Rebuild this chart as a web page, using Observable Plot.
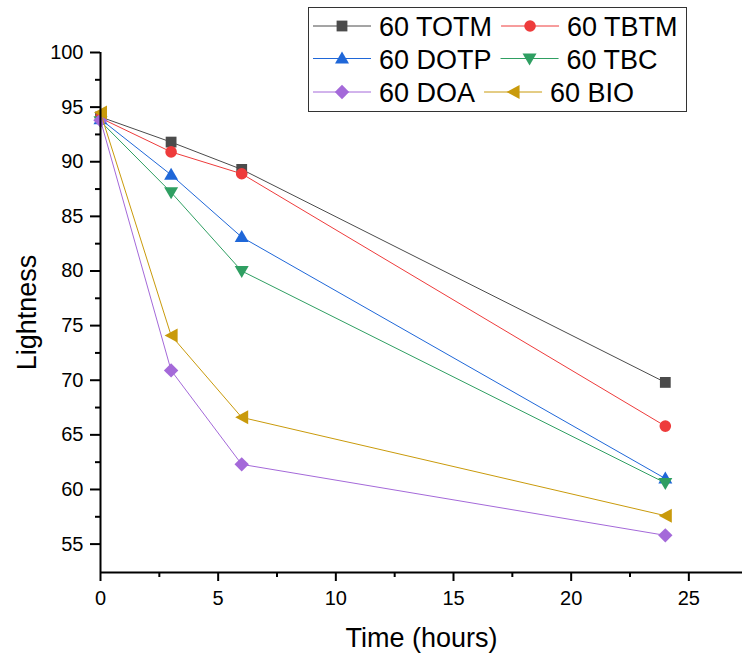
<!DOCTYPE html>
<html><head><meta charset="utf-8">
<script src="https://cdn.jsdelivr.net/npm/d3@7"></script>
<script src="https://cdn.jsdelivr.net/npm/@observablehq/plot@0.6"></script>
<style>body{margin:0;background:#fff;} svg{font-family:"Liberation Sans",Arial,sans-serif;}</style>
</head><body><div id="chart"></div>
<script>
const times = [0, 3, 6, 24];
const seriesNames = ["60 TOTM", "60 TBTM", "60 DOTP", "60 TBC", "60 DOA", "60 BIO"];
const totm = [94.1, 91.8, 89.3, 69.8];
const tbtm = [94.0, 90.9, 88.9, 65.8];
const dotp = [93.9, 88.8, 83.1, 61.0];
const tbc = [93.7, 87.2, 80.0, 60.6];
const doa = [93.8, 70.9, 62.3, 55.8];
const bio = [94.5, 74.1, 66.6, 57.6];
const seriesValues = [totm, tbtm, dotp, tbc, doa, bio];
const seriesColors = ["#4b4b4b", "#ee3b3b", "#1f67d8", "#2f9f62", "#a469d9", "#c99a0b"];
const xTicks = [0, 5, 10, 15, 20, 25];
const xMinor = [2.5, 7.5, 12.5, 17.5, 22.5];
const yTicks = [55, 60, 65, 70, 75, 80, 85, 90, 95, 100];
const yMinor = [57.5, 62.5, 67.5, 72.5, 77.5, 82.5, 87.5, 92.5, 97.5];
const xDomain = [0, 27.28];
const yDomain = [52.4, 100];

function sym(f) { return {draw(ctx, size) { const k = Math.sqrt(size / Math.PI) / 6; f(ctx, k); }}; }
const shapes = [
  sym((c, k) => { c.rect(-5.4 * k, -5.4 * k, 10.8 * k, 10.8 * k); }),
  sym((c, k) => { c.moveTo(5.8 * k, 0); c.arc(0, 0, 5.8 * k, 0, 2 * Math.PI); }),
  sym((c, k) => { c.moveTo(0, -7 * k); c.lineTo(7 * k, 5 * k); c.lineTo(-7 * k, 5 * k); c.closePath(); }),
  sym((c, k) => { c.moveTo(0, 7 * k); c.lineTo(7 * k, -5 * k); c.lineTo(-7 * k, -5 * k); c.closePath(); }),
  sym((c, k) => { c.moveTo(0, -7.2 * k); c.lineTo(7.2 * k, 0); c.lineTo(0, 7.2 * k); c.lineTo(-7.2 * k, 0); c.closePath(); }),
  sym((c, k) => { c.moveTo(-6.5 * k, 0); c.lineTo(6.5 * k, -7 * k); c.lineTo(6.5 * k, 7 * k); c.closePath(); })
];

const rows = seriesNames.flatMap((name, i) => times.map((t, j) => ({series: name, idx: i, time: t, value: seriesValues[i][j]})));

const marks = [];
seriesNames.forEach((name, i) => {
  const d = rows.filter(r => r.idx === i);
  marks.push(Plot.line(d, {x: "time", y: "value", stroke: seriesColors[i], strokeWidth: 1}));
  marks.push(Plot.dot(d, {x: "time", y: "value", symbol: shapes[i], r: 6, fill: seriesColors[i], stroke: "none"}));
});
marks.push(
  Plot.axisX(xTicks, {tickSize: 9, tickPadding: 9, fontSize: 20, strokeWidth: 2, label: null}),
  Plot.axisX(xMinor, {tickSize: 5, text: null, strokeWidth: 2, label: null}),
  Plot.axisY(yTicks, {tickSize: 10, tickPadding: 7, fontSize: 20, strokeWidth: 2, label: null}),
  Plot.axisY(yMinor, {tickSize: 5, text: null, strokeWidth: 2, label: null}),
  Plot.ruleX([0], {y1: yDomain[0], y2: 100, strokeWidth: 2}),
  Plot.ruleY([yDomain[0]], {strokeWidth: 2}),
  Plot.text(["Lightness"], {frameAnchor: "left", textAnchor: "middle", rotate: -90, dx: -73, fontSize: 27}),
  Plot.text(["Time (hours)"], {frameAnchor: "bottom", textAnchor: "middle", lineAnchor: "top", dy: 55, fontSize: 27})
);

const chart = Plot.plot({
  width: 742, height: 659,
  marginLeft: 100, marginRight: 0, marginTop: 52, marginBottom: 87,
  x: {domain: xDomain},
  y: {domain: yDomain},
  style: {fontFamily: "'Liberation Sans', Arial, sans-serif", color: "black", background: "white", overflow: "visible"},
  marks
});
document.getElementById("chart").appendChild(chart);

// Legend
const svg = d3.select(chart);
const leg = svg.append("g").attr("text-anchor", "start");
leg.append("rect").attr("x", 308.5).attr("y", 7.5).attr("width", 378).attr("height", 104)
  .attr("fill", "white").attr("stroke", "#333").attr("stroke-width", 1);
const legRows = [[0, 1], [2, 3], [4, 5]];
const baselines = [36, 68.5, 102];
legRows.forEach((items, ri) => {
  let x = 313;
  const yb = baselines[ri];
  const yc = yb - 10;
  items.forEach(i => {
    leg.append("line").attr("x1", x).attr("x2", x + 58).attr("y1", yc).attr("y2", yc)
      .attr("stroke", seriesColors[i]).attr("stroke-width", 1);
    const p = d3.path();
    shapes[i].draw(p, Math.PI * 36);
    leg.append("path").attr("d", p.toString()).attr("transform", `translate(${x + 29},${yc})`).attr("fill", seriesColors[i]);
    const t = leg.append("text").attr("x", x + 66).attr("y", yb).attr("text-anchor", "start")
      .attr("font-size", 27).attr("fill", "black").text(seriesNames[i]);
    x = x + 66 + t.node().getComputedTextLength() + 9;
  });
});
</script>
</body></html>
